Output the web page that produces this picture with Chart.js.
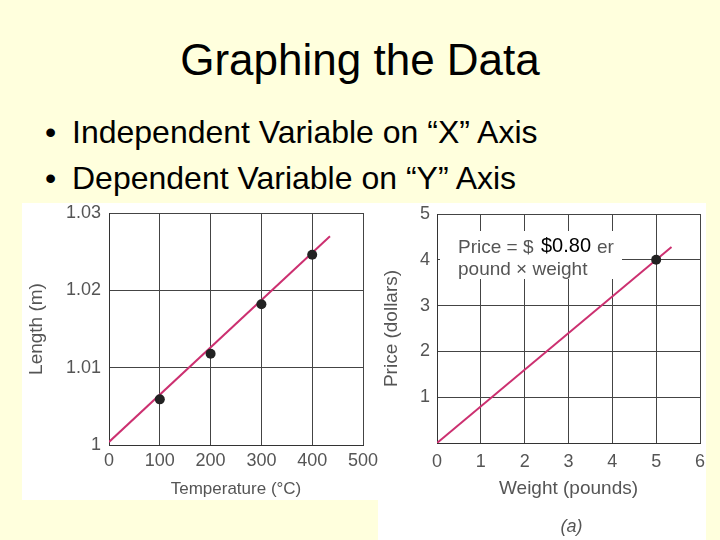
<!DOCTYPE html>
<html>
<head>
<meta charset="utf-8">
<script src="https://cdn.jsdelivr.net/npm/chart.js@4.4.1/dist/chart.umd.min.js"></script>
<style>
  body { margin: 0; width: 720px; height: 540px; background: #ffffdd; position: relative; overflow: hidden;
         font-family: "Liberation Sans", Arial, sans-serif; }
  .title { position: absolute; left: 0; top: 35px; width: 720px; text-align: center; font-size: 44px; line-height: 50px; }
  .bullet { position: absolute; left: 72px; font-size: 32px; line-height: 46px; white-space: nowrap; }
  .bullet span { position: absolute; left: -27px; }
  canvas { position: absolute; background: #fff; }
</style>
</head>
<body>
<div class="title">Graphing the Data</div>
<div class="bullet" style="top:109px"><span>•</span>Independent Variable on “X” Axis</div>
<div class="bullet" style="top:155px"><span>•</span>Dependent Variable on “Y” Axis</div>
<canvas id="lenChart" width="356" height="297" style="left:22px;top:203px"></canvas>
<canvas id="priceChart" width="328" height="337" style="left:378px;top:203px"></canvas>
<script>
// length vs temperature
const tempX = [100, 200, 300, 400];
const lengthY = [1.0059, 1.0118, 1.0182, 1.0246];
const lenFitX = [0, 435];
const lenFitY = [1.0004, 1.0270];
const tempTicks = [0, 100, 200, 300, 400, 500];
const lengthTicks = [1, 1.01, 1.02, 1.03];

// price vs weight
const weightX = [5];
const priceY = [4];
const priceFitX = [0, 5.35];
const priceFitY = [0, 4.28];
const weightTicks = [0, 1, 2, 3, 4, 5, 6];
const priceTicks = [0, 1, 2, 3, 4, 5];

const FONT = '"Liberation Sans", Arial, sans-serif';
const GRAY = '#555';
const LINE = '#cc3070';

const pts = (xs, ys) => xs.map((x, i) => ({ x, y: ys[i] }));

function axis(ticks, label, opts) {
    return {
        type: 'linear',
        min: ticks[0],
        max: ticks[ticks.length - 1],
        afterBuildTicks: s => { s.ticks = ticks.map(v => ({ value: v })); },
        afterFit: s => {
            // fixed axis sizes, no label overhang, so the plot box sits where the picture has it
            if (opts.width) s.width = opts.width;
            if (opts.height) s.height = opts.height;
            s.paddingLeft = s.paddingRight = s.paddingTop = s.paddingBottom = 0;
        },
        grid: { color: '#444', lineWidth: 1, drawTicks: false },
        border: { color: '#333' },
        ticks: {
            padding: opts.pad,
            color: GRAY,
            font: { family: FONT, size: opts.tickSize },
            callback: opts.fmt || (v => String(v)),
        },
        title: {
            display: true, text: label, color: GRAY,
            font: { family: FONT, size: opts.titleSize },
            padding: opts.titlePad,
        },
    };
}

function datasets(px, py, fx, fy) {
    return [
        { data: pts(px, py), pointRadius: 5, pointBackgroundColor: '#222', pointBorderWidth: 0, showLine: false },
        { data: pts(fx, fy), showLine: true, pointRadius: 0, borderColor: LINE, borderWidth: 2 },
    ];
}

const base = {
    responsive: false, maintainAspectRatio: false, animation: false, devicePixelRatio: 1,
    plugins: { legend: { display: false }, tooltip: { enabled: false } },
};

new Chart(document.getElementById('lenChart'), {
    type: 'scatter',
    data: { datasets: datasets(tempX, lengthY, lenFitX, lenFitY) },
    options: {
        ...base,
        layout: { padding: { left: 0, right: 15, top: 10, bottom: 0 } },
        scales: {
            x: axis(tempTicks, 'Temperature (°C)', { height: 55, pad: 5, tickSize: 18, titleSize: 17, titlePad: { top: 0, bottom: 0 } }),
            y: axis(lengthTicks, 'Length (m)', { width: 87, pad: 8, tickSize: 18, titleSize: 19, titlePad: { top: 3, bottom: 0 },
                fmt: v => v === 1 ? '1' : v.toFixed(2) }),
        },
    },
});

const notePlugin = {
    id: 'priceNote',
    beforeDatasetsDraw(chart) {
        const { ctx, chartArea: a } = chart;
        ctx.save();
        ctx.fillStyle = '#fff';
        ctx.fillRect(a.left + 3, a.top + 17, 182, 48);
        ctx.textBaseline = 'alphabetic';
        ctx.font = '19px ' + FONT;
        ctx.fillStyle = GRAY;
        ctx.fillText('Price = $', a.left + 21, a.top + 39);
        ctx.fillText('er', a.left + 160, a.top + 39);
        ctx.fillText('pound × weight', a.left + 21, a.top + 61);
        ctx.font = '20px ' + FONT;
        ctx.fillStyle = '#000';
        ctx.fillText('$0.80', a.left + 104, a.top + 38);
        ctx.restore();
    },
    afterDraw(chart) {
        const { ctx, chartArea: a } = chart;
        ctx.save();
        ctx.font = 'italic 18px ' + FONT;
        ctx.fillStyle = GRAY;
        ctx.textAlign = 'center';
        ctx.textBaseline = 'middle';
        ctx.fillText('(a)', (a.left + a.right) / 2 + 3, 324);
        ctx.restore();
    },
};

new Chart(document.getElementById('priceChart'), {
    type: 'scatter',
    data: { datasets: datasets(weightX, priceY, priceFitX, priceFitY) },
    options: {
        ...base,
        layout: { padding: { left: 0, right: 6, top: 11, bottom: 37 } },
        scales: {
            x: axis(weightTicks, 'Weight (pounds)', { height: 60, pad: 8, tickSize: 18, titleSize: 19, titlePad: { top: 0, bottom: 3 } }),
            y: axis(priceTicks, 'Price (dollars)', { width: 59, pad: 7, tickSize: 18, titleSize: 19, titlePad: { top: 2, bottom: 0 },
                fmt: v => v === 0 ? '' : String(v) }),
        },
    },
    plugins: [notePlugin],
});
</script>
</body>
</html>
